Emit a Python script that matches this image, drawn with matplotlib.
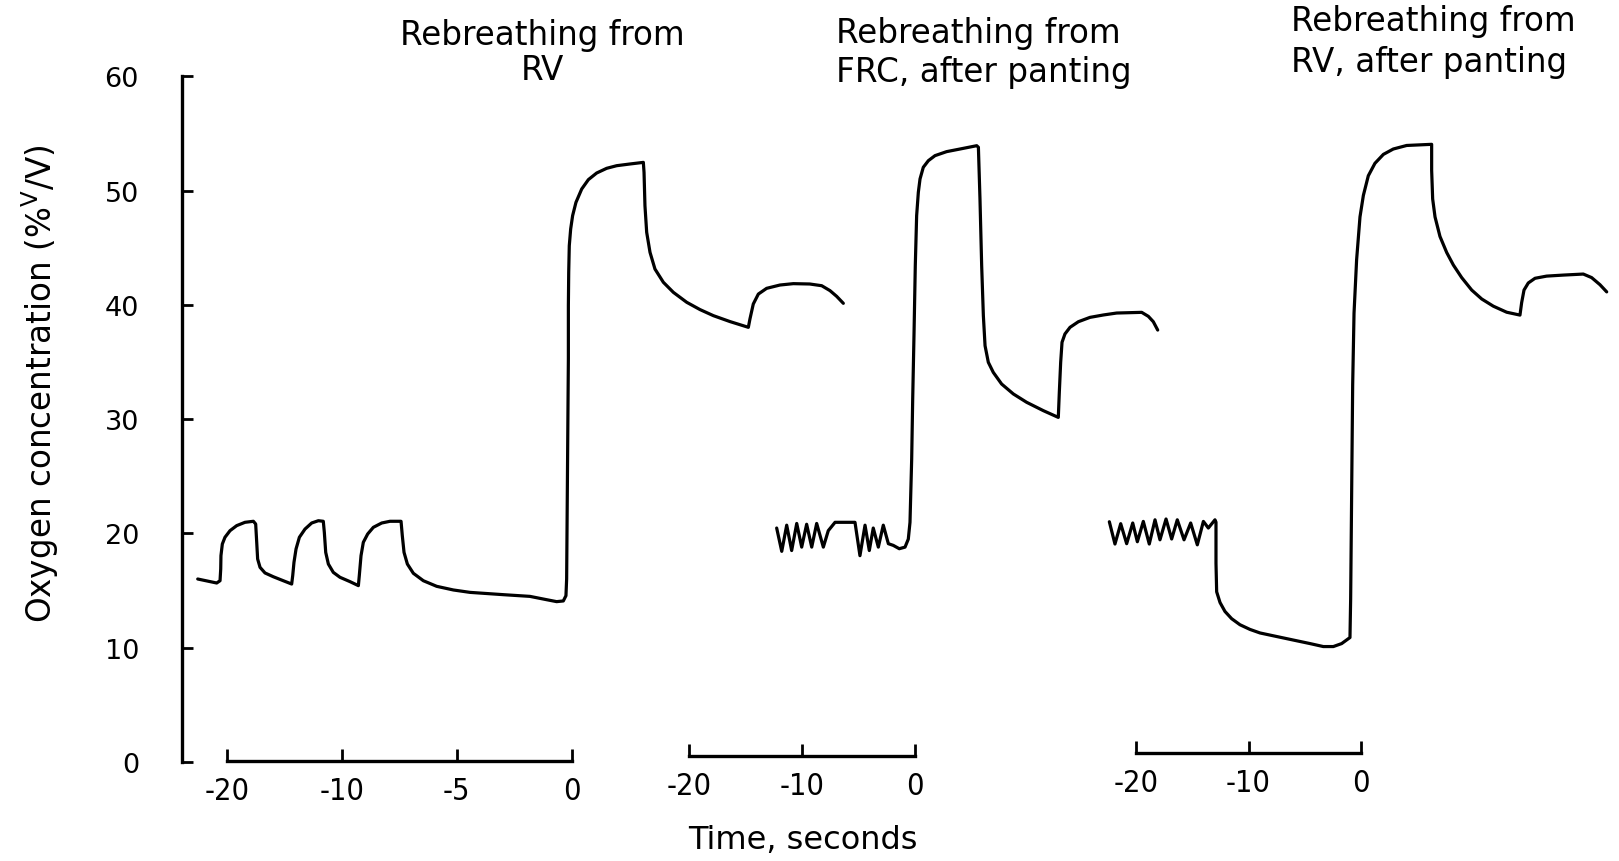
import matplotlib
matplotlib.use("Agg")
import matplotlib.pyplot as plt
from matplotlib import font_manager as fm

# ---------------------------------------------------------------------------
# Oxygen concentration (% V/V) against time (s), three rebreathing manoeuvres
# ---------------------------------------------------------------------------

# Rebreathing from RV
t_rv = [-32.52, -30.87, -30.58, -30.52, -30.50, -30.38, -30.15, -29.71, -29.13, -28.41,
        -27.68, -27.48, -27.39, -27.31, -27.10, -26.67, -25.95, -25.08, -24.35, -24.26,
        -24.15, -23.97, -23.68, -23.19, -22.61, -22.03, -21.60, -21.51, -21.39, -21.16,
        -20.73, -20.15, -19.28, -18.55, -18.47, -18.32, -18.12, -17.74, -17.25, -16.52,
        -15.80, -14.84, -14.73, -14.58, -14.29, -13.77, -12.90, -11.74, -10.29, -8.84,
        -5.95, -3.63, -2.18, -1.31, -0.73, -0.50, -0.44, -0.29, -0.29, -0.26,
        -0.21, -0.09, 0.08, 0.37, 0.87, 1.45, 2.17, 3.04, 3.91, 5.07,
        6.23, 6.29, 6.37, 6.52, 6.81, 7.24, 7.97, 8.84, 10.00, 11.16,
        12.32, 13.77, 15.36, 15.50, 15.79, 16.23, 16.95, 18.11, 19.27, 20.70,
        21.74, 22.46, 23.04, 23.62]
o2_rv = [16.01, 15.66, 15.86, 16.89, 18.05, 19.07, 19.66, 20.24, 20.68, 20.97,
         21.06, 20.82, 19.22, 17.76, 17.03, 16.54, 16.21, 15.86, 15.57, 16.30,
         17.47, 18.64, 19.66, 20.38, 20.91, 21.11, 21.06, 20.09, 18.34, 17.32,
         16.59, 16.16, 15.78, 15.43, 16.30, 18.05, 19.22, 19.95, 20.53, 20.91,
         21.06, 21.06, 19.80, 18.34, 17.32, 16.51, 15.86, 15.37, 15.05, 14.84,
         14.64, 14.49, 14.20, 14.03, 14.09, 14.55, 16.01, 35.26, 39.92, 42.84,
         45.17, 46.63, 47.80, 48.96, 50.13, 50.95, 51.53, 51.94, 52.17, 52.32,
         52.46, 51.59, 48.67, 46.34, 44.59, 43.13, 41.97, 41.09, 40.22, 39.58,
         39.05, 38.53, 38.03, 38.76, 40.07, 40.94, 41.44, 41.73, 41.85, 41.82,
         41.67, 41.24, 40.74, 40.13]

# Rebreathing from FRC, after panting
t_frc_pant = [-12.23, -11.78, -11.34, -10.90, -10.45, -10.01, -9.57, -9.12, -8.68, -8.09,
              -7.65, -7.05, -5.28, -4.84, -4.39, -4.01, -3.66, -3.21, -2.77, -2.32,
              -1.88, -1.35, -0.84, -0.55, -0.40, -0.25, -0.16, -0.04, 0.07, 0.19,
              0.34, 0.49, 0.78, 1.23, 1.82, 2.85, 4.04, 5.52, 5.67, 5.81,
              5.96, 6.11, 6.26, 6.55, 6.99, 7.73, 8.77, 9.95, 11.43, 12.76,
              12.85, 12.97, 13.09, 13.35, 13.80, 14.54, 15.57, 16.76, 17.94, 20.16,
              20.75, 21.19, 21.58]
o2_frc_pant = [20.47, 18.43, 20.72, 18.50, 20.87, 18.80, 20.80, 18.80, 20.87, 18.80,
               20.24, 20.97, 20.97, 18.05, 20.72, 18.50, 20.47, 18.80, 20.72, 19.10,
               18.95, 18.66, 18.80, 19.50, 20.97, 26.51, 31.76, 37.59, 43.42, 47.80,
               49.84, 51.01, 52.03, 52.61, 53.05, 53.40, 53.63, 53.92, 53.78, 49.26,
               43.42, 39.05, 36.42, 34.97, 34.09, 33.07, 32.20, 31.47, 30.74, 30.15,
               32.34, 34.97, 36.72, 37.45, 38.03, 38.52, 38.90, 39.11, 39.28, 39.34,
               38.99, 38.52, 37.79]

# Rebreathing from RV, after panting
t_rv_pant = [-22.37, -21.87, -21.36, -20.83, -20.29, -19.88, -19.35, -18.82, -18.31, -17.87,
             -17.33, -16.83, -16.33, -15.73, -15.14, -14.55, -14.01, -13.57, -12.98, -12.89,
             -12.89, -12.83, -12.53, -12.09, -11.50, -10.76, -9.87, -8.98, -7.50, -6.02,
             -4.53, -3.35, -2.46, -1.72, -0.98, -0.92, -0.83, -0.74, -0.62, -0.39,
             -0.09, 0.21, 0.65, 1.24, 1.99, 2.87, 4.06, 6.28, 6.28, 6.37,
             6.58, 7.02, 7.62, 8.21, 8.95, 9.84, 10.73, 11.76, 12.95, 14.13,
             14.28, 14.49, 14.87, 15.47, 16.50, 17.99, 19.76, 20.50, 21.24, 21.84]
o2_rv_pant = [21.02, 19.07, 20.85, 19.10, 20.91, 19.27, 21.05, 19.07, 21.19, 19.44,
              21.26, 19.51, 21.19, 19.44, 20.91, 19.00, 21.05, 20.47, 21.19, 20.98,
              17.39, 14.89, 13.95, 13.17, 12.54, 12.01, 11.60, 11.29, 10.98, 10.67,
              10.36, 10.10, 10.10, 10.36, 10.89, 14.26, 23.63, 33.01, 39.26, 43.94,
              47.69, 49.57, 51.29, 52.38, 53.16, 53.63, 53.94, 54.04, 51.76, 49.26,
              47.69, 45.98, 44.57, 43.48, 42.38, 41.29, 40.51, 39.88, 39.35, 39.10,
              40.19, 41.29, 41.91, 42.32, 42.51, 42.60, 42.69, 42.38, 41.76, 41.13]

y_ticks = [0, 10, 20, 30, 40, 50, 60]
rv_ticks = [-30, -20, -10, 0]
rv_ticklabels = ["-20", "-10", "-5", "0"]
frc_pant_ticks = [-20, -10, 0]
frc_pant_ticklabels = ["-20", "-10", "0"]
rv_pant_ticks = [-20, -10, 0]
rv_pant_ticklabels = ["-20", "-10", "0"]

titles = ["Rebreathing from\nRV",
          "Rebreathing from\nFRC, after panting",
          "Rebreathing from\nRV, after panting"]
y_label = "Oxygen concentration (%$^{\\mathrm{V}}$/V)"
x_label = "Time, seconds"

# ---------------------------------------------------------------------------
# Layout (pixels of a 1619 x 862 canvas)
# ---------------------------------------------------------------------------
W, H = 1619, 862
AX_LEFT, AX_BOTTOM, AX_TOP = 182.0, 763.0, 77.2
rect = [AX_LEFT / W, (H - AX_BOTTOM) / H, (W - AX_LEFT) / W, (AX_BOTTOM - AX_TOP) / H]

INK = "black"
LW_TRACE = 2.3
LW_AXIS = 2.4


def narrow_tick_font():
    """Pick a condensed face for the time labels when one is installed."""
    for f in fm.fontManager.ttflist:
        name = f.name.lower()
        if (f.style == "normal" and f.weight in (400, "normal", "regular")
                and (f.stretch in ("condensed", "semi-condensed")
                     or "narrow" in name or "condensed" in name)):
            return fm.FontProperties(fname=f.fname, size=22)
    return fm.FontProperties(family="DejaVu Sans", size=20)


tick_font = narrow_tick_font()

fig = plt.figure(figsize=(W / 100, H / 100), dpi=100)
fig.patch.set_facecolor("white")

# Shared oxygen axis
ax = fig.add_axes(rect)
ax.set_ylim(0, 60)
ax.set_xlim(0, 1)
ax.patch.set_visible(False)
for side in ("top", "right", "bottom"):
    ax.spines[side].set_visible(False)
ax.spines["left"].set_linewidth(LW_AXIS)
ax.xaxis.set_visible(False)
ax.set_yticks(y_ticks)
ax.tick_params(axis="y", direction="in", length=8, width=2.0, pad=31,
               labelsize=19.5, colors=INK)

# One time axis per manoeuvre: (times, values, ticks, labels, zero px, px per s, bracket height)
panels = [
    (t_rv, o2_rv, rv_ticks, rv_ticklabels, 571.7, 11.5, 0.1),
    (t_frc_pant, o2_frc_pant, frc_pant_ticks, frc_pant_ticklabels, 914.5, 11.27, 0.55),
    (t_rv_pant, o2_rv_pant, rv_pant_ticks, rv_pant_ticklabels, 1361.0, 11.25, 0.8),
]

for t, o2, ticks, labels, zero_px, pps, bracket_y in panels:
    pax = fig.add_axes(rect)
    pax.patch.set_visible(False)
    pax.set_ylim(0, 60)
    pax.set_xlim((AX_LEFT - zero_px) / pps, (W - zero_px) / pps)
    for side in ("top", "right", "left"):
        pax.spines[side].set_visible(False)
    pax.yaxis.set_visible(False)
    sp = pax.spines["bottom"]
    sp.set_position(("data", bracket_y))
    sp.set_bounds(ticks[0], ticks[-1])
    sp.set_linewidth(LW_AXIS)
    pax.set_xticks(ticks)
    pax.set_xticklabels(labels, fontproperties=tick_font)
    pax.tick_params(axis="x", direction="in", length=8.5, width=2.0, pad=11,
                    colors=INK)
    pax.plot(t, o2, color=INK, lw=LW_TRACE, solid_joinstyle="round",
             solid_capstyle="round", clip_on=False)

# Manoeuvre headings
fig.text(542 / W, 1 - 53 / H, titles[0], ha="center", va="center",
         multialignment="center", fontsize=23.5, linespacing=1.1, color=INK)
fig.text(836 / W, 1 - 53 / H, titles[1], ha="left", va="center",
         multialignment="left", fontsize=23.5, linespacing=1.25, color=INK)
fig.text(1291 / W, 1 - 42 / H, titles[2], ha="left", va="center",
         multialignment="left", fontsize=23.5, linespacing=1.3, color=INK)

fig.text(803 / W, 1 - 841 / H, x_label, ha="center", va="center",
         fontsize=23, color=INK)
fig.text(40 / W, 1 - 384 / H, y_label, ha="center", va="center",
         rotation=90, fontsize=23.5, color=INK)

fig.savefig("out.png", dpi=100, facecolor="white")
